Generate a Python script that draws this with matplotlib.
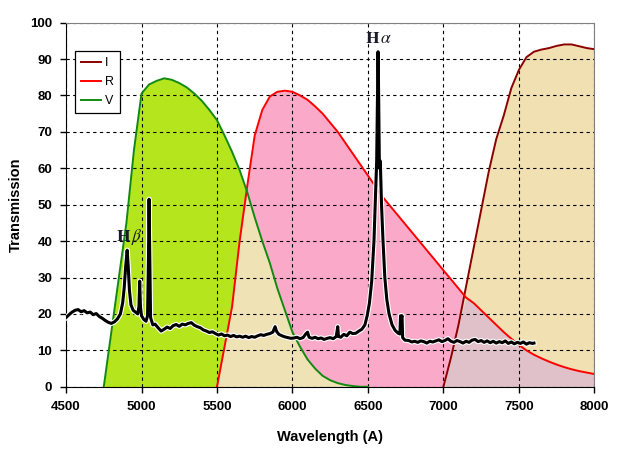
import matplotlib
matplotlib.use("Agg")
import matplotlib.pyplot as plt
import numpy as np

plt.rcParams['font.family'] = ['Liberation Sans', 'DejaVu Sans']
plt.rcParams['mathtext.fontset'] = 'stix'

# filter transmission curves, every 50 A
v_wl = np.arange(4750, 6501, 50)
v_val = [0, 15, 30, 45, 65, 80.5, 83, 84, 84.7, 84.3, 83.4, 82.2, 80.5, 78.5, 76,
         73.2, 69, 64.5, 59.5, 53.5, 46.5, 40, 34, 27, 21, 15, 11, 7.5, 5, 3, 1.8,
         1, 0.5, 0.2, 0, 0]

r_wl = np.arange(5500, 8001, 50)
r_val = [0, 11, 22, 40, 55, 69, 76, 79.7, 81, 81.3, 81, 80, 78.8, 77, 75, 72.5, 70,
         67, 64, 61, 58, 55, 52, 49.5, 47, 44.5, 42, 39.5, 37, 34.5, 32, 29.5, 27,
         24.5, 23, 21, 19, 17, 15, 13.2, 11.5, 10, 8.8, 7.8, 6.9, 6.1, 5.4, 4.8,
         4.3, 3.9, 3.5]

i_wl = np.arange(7000, 8001, 50)
i_val = [0, 8, 17, 27.5, 38, 48.5, 59, 68, 74.5, 82, 87, 90.5, 92, 92.6, 93, 93.6,
         94, 94, 93.5, 93, 92.7]

# emission spectrum of the star
spec_wl = [4500, 4520, 4540, 4560, 4580, 4600, 4620, 4640, 4660, 4680, 4700, 4720,
           4740, 4760, 4780, 4800, 4820, 4840, 4860, 4875, 4885, 4895, 4905, 4912,
           4920, 4930, 4945, 4960, 4975, 4983, 4988, 4993, 5000, 5015, 5030, 5040,
           5046, 5050, 5055, 5060, 5075, 5090, 5110, 5130, 5150, 5170, 5190, 5210,
           5230, 5250, 5270, 5290, 5310, 5330, 5350, 5370, 5390, 5410, 5430, 5450,
           5470, 5490, 5510, 5530, 5550, 5570, 5590, 5610, 5630, 5650, 5670, 5690,
           5710, 5730, 5750, 5770, 5790, 5810, 5830, 5850, 5870, 5885, 5895, 5910,
           5930, 5950, 5970, 5990, 6010, 6030, 6050, 6070, 6090, 6100, 6110, 6130,
           6150, 6170, 6190, 6210, 6230, 6250, 6270, 6290, 6300, 6305, 6320, 6340,
           6360, 6380, 6400, 6420, 6440, 6460, 6480, 6495, 6510, 6525, 6540, 6550,
           6558, 6563, 6567, 6571, 6576, 6582, 6590, 6600, 6612, 6625, 6640, 6660,
           6680, 6700, 6712, 6716, 6722, 6726, 6730, 6745, 6770, 6790, 6810, 6830,
           6850, 6870, 6890, 6910, 6930, 6950, 6970, 6990, 7010, 7030, 7050, 7070,
           7090, 7110, 7130, 7150, 7170, 7190, 7210, 7230, 7250, 7270, 7290, 7310,
           7330, 7350, 7370, 7390, 7410, 7430, 7450, 7470, 7490, 7510, 7530, 7550,
           7570, 7590, 7600]
spec_val = [19.0, 19.8, 20.5, 21.0, 21.2, 20.6, 20.9, 20.3, 20.5, 19.8, 20.1, 19.3,
            18.8, 18.2, 17.7, 17.4, 17.8, 18.6, 20.0, 23.0, 27.0, 33.0, 37.5, 33.0,
            26.5, 22.5, 21.0, 20.5, 20.0, 22.0, 29.0, 22.0, 19.5, 18.5, 18.0, 19.5,
            35.0, 51.5, 35.0, 19.0, 17.0, 17.2, 16.2, 15.3, 15.8, 16.4, 16.0, 16.8,
            17.1, 16.6, 17.2, 17.0, 17.4, 17.6, 16.9, 16.5, 16.2, 15.6, 15.3, 14.9,
            15.1, 14.6, 14.2, 14.5, 14.0, 14.2, 13.8, 14.1, 13.7, 13.9, 13.6, 13.9,
            13.5, 13.8, 13.6, 14.0, 14.3, 14.1, 14.4, 14.6, 15.0, 16.5, 15.2, 14.4,
            14.0, 13.7, 13.5, 13.3, 13.4, 13.6, 13.2, 13.5, 14.6, 15.0, 13.6, 13.3,
            13.6, 13.2, 13.4, 13.0, 13.3, 13.5, 13.2, 13.8, 16.5, 13.8, 13.6, 14.4,
            14.0, 15.0, 14.6, 14.7, 15.3, 15.8, 17.0, 19.5, 23.0, 29.0, 40.0, 52.0,
            62.0, 80.0, 92.0, 80.0, 60.0, 62.0, 50.0, 40.0, 30.0, 24.0, 20.0, 17.0,
            15.5, 14.7, 14.5, 19.5, 19.0, 19.5, 13.5, 12.8, 12.7, 12.3, 12.5, 12.2,
            12.6, 12.4, 12.0, 12.5, 12.3, 12.6, 12.9, 12.4, 12.7, 13.2, 12.5, 12.2,
            12.7, 12.4, 12.0, 12.5, 12.2, 12.8, 13.0, 12.4, 12.7, 12.2, 12.6, 12.1,
            12.5, 12.0, 12.4, 12.1, 12.6, 11.9, 12.3, 11.8, 12.2, 11.9, 12.3, 11.7,
            12.1, 11.9, 12.0]

names = ['I', 'R', 'V']
line_colors = {'I': '#8b0000', 'R': '#ff0000', 'V': '#128a12'}


def main():
    fig = plt.figure(figsize=(6.23, 4.61), dpi=100)
    ax = fig.add_axes([0.106, 0.161, 0.848, 0.790])

    v = np.array(v_val)
    r = np.array(r_val)
    i_ = np.array(i_val)

    # fills
    ax.fill_between(v_wl, 0, v, color='#b5e51d', lw=0, zorder=1)
    ax.fill_between(r_wl, 0, r, color='#fba9c8', lw=0, zorder=1)
    ax.fill_between(i_wl, 0, i_, color='#f0e0b2', lw=0, zorder=1)
    # overlaps
    vr_wl = v_wl[v_wl >= 5500]
    vr = np.minimum(v[v_wl >= 5500], r[r_wl <= 6500])
    ax.fill_between(vr_wl, 0, vr, color='#efe3b6', lw=0, zorder=1.1)
    ir = np.minimum(i_, r[r_wl >= 7000])
    ax.fill_between(i_wl, 0, ir, color='#e0c0c9', lw=0, zorder=1.1)

    ax.plot(i_wl, i_, color=line_colors['I'], lw=1.4, label='I', zorder=2)
    ax.plot(r_wl, r, color=line_colors['R'], lw=1.4, label='R', zorder=2)
    ax.plot(v_wl, v, color=line_colors['V'], lw=1.4, label='V', zorder=2)

    ax.plot(spec_wl, spec_val, color='white', lw=3.8, zorder=3,
            solid_joinstyle='round')
    ax.plot(spec_wl, spec_val, color='black', lw=2.2, zorder=3.1,
            solid_joinstyle='round')

    ax.text(6570, 95.5, r'$\mathbf{H}\,\alpha$', fontsize=12.5,
            ha='center', va='center', color='#1a1a28', zorder=4)
    ax.text(4918, 41.2, r'$\mathbf{H}\,\beta$', fontsize=12.5,
            ha='center', va='center', color='#1a1a28', zorder=4)

    ax.set_xlim(4500, 8000)
    ax.set_ylim(0, 100)
    ax.set_xticks(np.arange(4500, 8001, 500))
    ax.set_yticks(np.arange(0, 101, 10))
    ax.set_axisbelow('line')
    ax.grid(True, color='black', linestyle=(0, (3, 3)), lw=0.8)

    ax.tick_params(direction='out', length=4, width=1, labelsize=9.5, pad=6)
    for lab in ax.get_xticklabels() + ax.get_yticklabels():
        lab.set_fontweight('bold')
    ax.spines['left'].set_color('black')
    ax.spines['bottom'].set_color('black')
    ax.spines['top'].set_color('#808080')
    ax.spines['right'].set_color('#808080')

    ax.set_xlabel('Wavelength (A)', fontsize=10.5, fontweight='bold', labelpad=12.5)
    ax.set_ylabel('Transmission', fontsize=10.5, fontweight='bold', labelpad=5.5)

    leg = ax.legend(loc='upper left', bbox_to_anchor=(0.017, 0.922),
                    borderaxespad=0, fontsize=9, handlelength=1.6,
                    handletextpad=0.3, labelspacing=0.55, fancybox=False,
                    framealpha=1, edgecolor='black', borderpad=0.5)
    leg.get_frame().set_linewidth(0.9)

    fig.savefig('out.png', dpi=100)


if __name__ == '__main__':
    main()
